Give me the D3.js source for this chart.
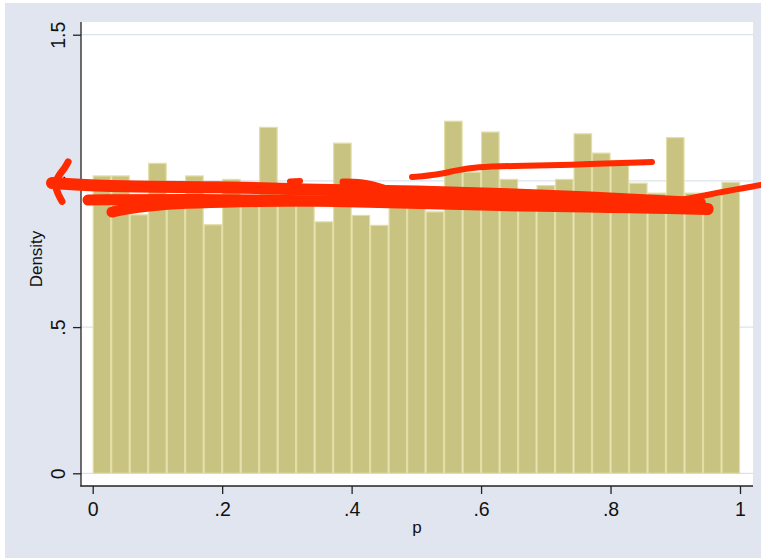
<!DOCTYPE html>
<html>
<head>
<meta charset="utf-8">
<script src="https://cdn.jsdelivr.net/npm/d3@7"></script>
<style>
  html, body { margin: 0; padding: 0; background: #ffffff; }
  svg { display: block; }
  text { font-family: "Liberation Sans", Arial, sans-serif; fill: #111; }
</style>
</head>
<body>
<script>
// ---- data ----
const binCount = 35;
const binLo = 0, binHi = 1;
const density = [1.017, 1.017, 0.884, 1.06, 0.95, 1.017, 0.85, 1.005, 0.94, 1.183,
                 0.96, 0.95, 0.86, 1.129, 0.882, 0.848, 0.95, 0.94, 0.894, 1.204,
                 1.03, 1.167, 1.005, 0.95, 0.984, 1.005, 1.161, 1.095, 1.07, 0.992,
                 0.958, 1.148, 0.958, 0.952, 0.995];
const xTicks = [0, 0.2, 0.4, 0.6, 0.8, 1];
const xTickLabels = ["0", ".2", ".4", ".6", ".8", "1"];
const yTicks = [0, 0.5, 1, 1.5];
const yTickLabels = ["0", ".5", "1", "1.5"];
const xTitle = "p";
const yTitle = "Density";

// hand-drawn red annotation strokes, in data coordinates [p, density]
const strokeArrow = [[-0.0380, 1.0650], [-0.0440, 1.0400], [-0.0629, 0.9928], [-0.0474, 0.9300]];
const strokeUpper = [[-0.0629, 0.9928], [0.0422, 0.9791], [0.2013, 0.9800], [0.3203, 0.9700], [0.4748, 0.9660], [0.6292, 0.9560], [0.7837, 0.9420], [0.9381, 0.9240]];
const strokeMiddle = [[-0.0073, 0.9347], [0.1658, 0.9381], [0.3203, 0.9330], [0.4748, 0.9250], [0.6292, 0.9150], [0.7837, 0.9090], [0.9505, 0.9060]];
const strokeLower = [[0.0298, 0.8936], [0.0885, 0.9210], [0.2430, 0.9300], [0.4748, 0.9350], [0.6292, 0.9200], [0.8500, 0.9080], [0.9505, 0.9020]];
const strokeRising = [[0.7837, 0.9040], [0.8918, 0.9244], [0.9690, 0.9620], [1.0323, 0.9860]];
const strokeTop = [[0.4933, 1.0133], [0.5319, 1.0202], [0.5628, 1.0373], [0.5937, 1.0475], [0.6447, 1.0510], [0.7327, 1.0544], [0.8640, 1.0647]];
const strokeDash = [[0.3048, 0.9980], [0.3203, 1.0000]];
const strokeHook = [[0.3867, 0.9962], [0.4238, 0.9945], [0.4593, 0.9689]];
const annotations = [
  {pts: strokeArrow, w: 7},
  {pts: strokeUpper, w: 12},
  {pts: strokeMiddle, w: 11},
  {pts: strokeLower, w: 11},
  {pts: strokeRising, w: 6},
  {pts: strokeTop, w: 6},
  {pts: strokeDash, w: 6},
  {pts: strokeHook, w: 7}
];

// ---- layout ----
const W = 761, H = 558;
const plot = {left: 81, right: 753, top: 22, bottom: 486};

const svg = d3.select("body").append("svg").attr("width", W).attr("height", H);

// outer graph region
svg.append("rect").attr("x", 5).attr("y", 3).attr("width", W - 5).attr("height", H - 3)
  .attr("fill", "#e0e5ef");
// plot region
svg.append("rect").attr("x", plot.left).attr("y", plot.top)
  .attr("width", plot.right - plot.left).attr("height", plot.bottom - plot.top)
  .attr("fill", "#ffffff");

const x = d3.scaleLinear().domain([0, 1]).range([92.7, 740]);
const y = d3.scaleLinear().domain([0, 1.5]).range([473.3, 34.7]);

// gridlines
svg.append("g").selectAll("line").data(yTicks).join("line")
  .attr("x1", plot.left).attr("x2", plot.right)
  .attr("y1", d => y(d)).attr("y2", d => y(d))
  .attr("stroke", "#dbe2ee").attr("stroke-width", 1.2);

// bars
const binW = (binHi - binLo) / binCount;
const bins = density.map((d, i) => ({x0: binLo + i * binW, x1: binLo + (i + 1) * binW, d}));
svg.append("g").selectAll("rect").data(bins).join("rect")
  .attr("x", b => x(b.x0) + 0.5)
  .attr("width", b => x(b.x1) - x(b.x0) - 1)
  .attr("y", b => y(b.d))
  .attr("height", b => y(0) - y(b.d))
  .attr("fill", "#c9c381")
  .attr("stroke", "#e2dea6")
  .attr("stroke-width", 1.2);

// y axis
const yAxis = d3.axisLeft(y).tickValues(yTicks)
  .tickFormat((d, i) => yTickLabels[i]).tickSize(8).tickSizeOuter(0);
const gy = svg.append("g").attr("transform", `translate(${plot.left},0)`).call(yAxis);
gy.select(".domain").remove();
gy.selectAll(".tick line").attr("stroke", "#222").attr("stroke-width", 1.3);
gy.selectAll(".tick text")
  .attr("x", null).attr("dy", null)
  .attr("transform", "translate(-16,0) rotate(-90)")
  .attr("text-anchor", "middle")
  .attr("font-size", 19.5)
  .attr("font-family", "Liberation Sans, Arial, sans-serif")
  .attr("fill", "#111");

// x axis
const xAxis = d3.axisBottom(x).tickValues(xTicks)
  .tickFormat((d, i) => xTickLabels[i]).tickSize(8).tickSizeOuter(0);
const gx = svg.append("g").attr("transform", `translate(0,${plot.bottom})`).call(xAxis);
gx.select(".domain").remove();
gx.selectAll(".tick line").attr("stroke", "#222").attr("stroke-width", 1.3);
gx.selectAll(".tick text")
  .attr("y", 30).attr("dy", null)
  .attr("font-size", 19.5)
  .attr("font-family", "Liberation Sans, Arial, sans-serif")
  .attr("fill", "#111");

// axis lines
svg.append("line").attr("x1", plot.left).attr("x2", plot.left)
  .attr("y1", plot.top).attr("y2", plot.bottom + 0.6)
  .attr("stroke", "#222").attr("stroke-width", 1.3);
svg.append("line").attr("x1", plot.left - 0.6).attr("x2", plot.right)
  .attr("y1", plot.bottom).attr("y2", plot.bottom)
  .attr("stroke", "#222").attr("stroke-width", 1.3);

// axis titles
svg.append("text").attr("x", (plot.left + plot.right) / 2).attr("y", 533)
  .attr("text-anchor", "middle").attr("font-size", 17).text(xTitle);
svg.append("text").attr("transform", "translate(42,259) rotate(-90)")
  .attr("text-anchor", "middle").attr("font-size", 17).text(yTitle);

// red annotation scribbles
const line = d3.line().x(p => x(p[0])).y(p => y(p[1])).curve(d3.curveBasis);
svg.append("g").selectAll("path").data(annotations).join("path")
  .attr("d", a => line(a.pts))
  .attr("fill", "none")
  .attr("stroke", "#ff2a00")
  .attr("stroke-width", a => a.w)
  .attr("stroke-linecap", "round")
  .attr("stroke-linejoin", "round");
</script>
</body>
</html>
